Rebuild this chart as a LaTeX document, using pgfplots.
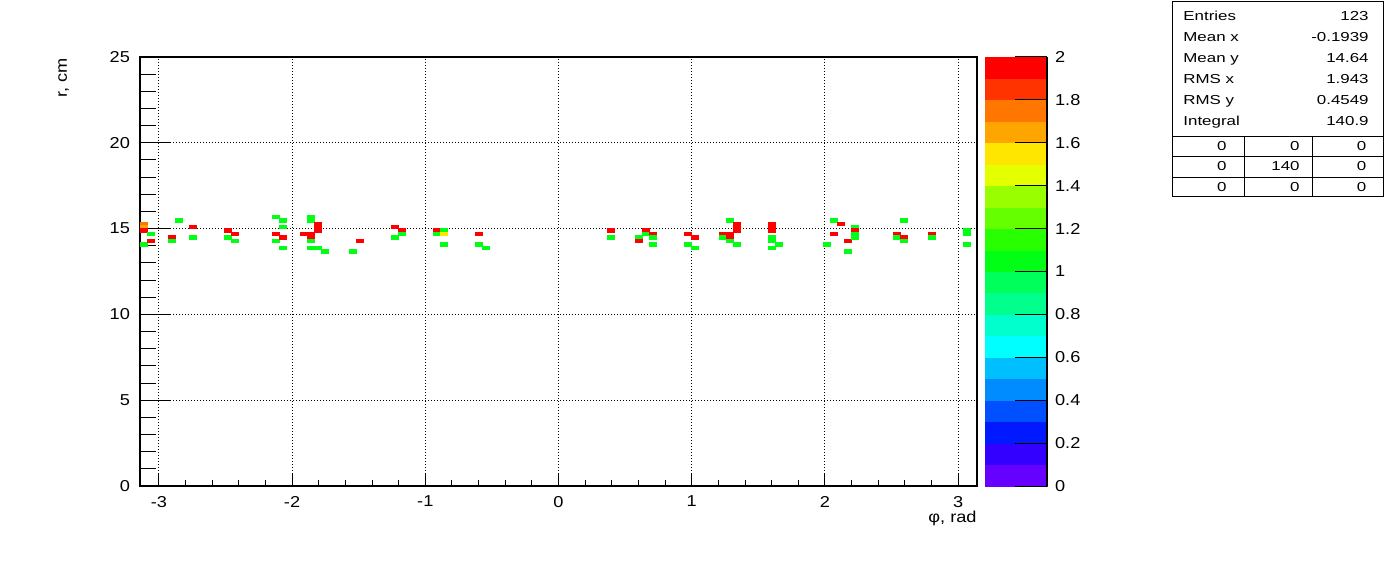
\documentclass[border=0pt]{standalone}
\usepackage{fontspec}
\setmainfont{Liberation Sans}[FakeStretch=1.15]
\newfontfamily\statfont{Liberation Sans}[FakeStretch=1.3]
\usepackage{pgfplots}
\usepackage{pgfplotstable}
\pgfplotsset{compat=1.18}
\newcommand\ft{\fontsize{7.9}{9.4}\selectfont}
\newcommand\fs{\statfont\fontsize{6.5}{7.8}\selectfont}
\pgfplotstableread{
x y v
-3.1154 15.3 1.75
-3.1154 15.1 1.65
-3.1154 14.9 1.95
-3.1154 14.1 1.05
-3.0631 14.7 1.05
-3.0631 14.3 1.95
-2.9060 14.5 1.95
-2.9060 14.3 1.05
-2.8536 15.5 1.05
-2.7489 15.1 1.95
-2.7489 14.5 1.05
-2.4871 14.9 1.95
-2.4871 14.5 1.05
-2.4347 14.7 1.95
-2.4347 14.3 1.05
-2.1206 15.7 1.05
-2.1206 14.7 1.95
-2.1206 14.3 1.05
-2.0682 15.5 1.05
-2.0682 15.1 1.05
-2.0682 14.5 1.95
-2.0682 13.9 1.05
-1.9111 14.7 1.95
-1.8588 15.7 1.05
-1.8588 15.5 1.05
-1.8588 14.7 1.95
-1.8588 14.5 1.95
-1.8588 14.3 1.05
-1.8588 13.9 1.05
-1.8064 15.3 1.95
-1.8064 15.1 1.95
-1.8064 14.9 1.95
-1.8064 13.9 1.05
-1.7541 13.7 1.05
-1.5446 13.7 1.05
-1.4923 14.3 1.95
-1.2305 15.1 1.95
-1.2305 14.5 1.05
-1.1781 14.9 1.95
-1.1781 14.7 1.05
-0.9163 14.9 1.95
-0.9163 14.7 1.05
-0.8639 14.9 1.05
-0.8639 14.7 1.55
-0.8639 14.1 1.05
-0.6021 14.7 1.95
-0.6021 14.1 1.05
-0.5498 13.9 1.05
0.3927 14.9 1.95
0.3927 14.5 1.05
0.6021 14.5 1.05
0.6021 14.3 1.95
0.6545 14.9 1.95
0.6545 14.7 1.05
0.7069 14.7 1.95
0.7069 14.5 1.05
0.7069 14.1 1.05
0.9687 14.7 1.95
0.9687 14.1 1.05
1.0210 14.5 1.95
1.0210 13.9 1.05
1.2305 14.7 1.95
1.2305 14.5 1.05
1.2828 15.5 1.05
1.2828 14.7 1.95
1.2828 14.5 1.95
1.2828 14.3 1.05
1.3352 15.3 1.95
1.3352 15.1 1.95
1.3352 14.9 1.95
1.3352 14.1 1.05
1.5970 15.3 1.95
1.5970 15.1 1.95
1.5970 14.9 1.95
1.5970 14.5 1.05
1.5970 14.3 1.05
1.5970 13.9 1.05
1.6493 14.1 1.05
2.0159 14.1 1.05
2.0682 15.5 1.05
2.0682 14.7 1.95
2.1206 15.3 1.95
2.1729 14.3 1.95
2.1729 13.7 1.05
2.2253 15.1 1.05
2.2253 14.9 1.95
2.2253 14.7 1.05
2.2253 14.5 1.05
2.5395 14.7 1.95
2.5395 14.5 1.05
2.5918 15.5 1.05
2.5918 14.5 1.95
2.5918 14.3 1.05
2.8013 14.7 1.95
2.8013 14.5 1.05
3.0631 14.9 1.05
3.0631 14.7 1.05
3.0631 14.1 1.05
}\hits
\pgfplotsset{
  rootpal/.style={
    colormap={root}{
      rgb255=(102,0,255) rgb255=(51,0,255) rgb255=(0,25,255) rgb255=(0,80,255)
      rgb255=(0,140,255) rgb255=(0,191,255) rgb255=(0,255,255) rgb255=(0,255,204)
      rgb255=(0,255,140) rgb255=(0,255,90) rgb255=(0,255,20) rgb255=(40,255,0)
      rgb255=(102,255,0) rgb255=(153,255,0) rgb255=(228,255,0) rgb255=(255,230,0)
      rgb255=(255,165,0) rgb255=(255,119,0) rgb255=(255,51,0) rgb255=(255,0,0)},
    colormap access=piecewise constant,
  },
  common/.style={
    at={(0,0)}, anchor=south west,
    scale only axis, width=418.5pt, height=214.5pt,
    xmin=-3.14159265, xmax=3.14159265, ymin=0, ymax=25,
    tick align=inside, tick pos=left,
    /pgf/number format/assume math mode=true,
    tick label style={font=\ft},
  },
}
\begin{document}
\begin{tikzpicture}
\path[use as bounding box] (-70pt,-43pt) rectangle (628pt,243pt);
\begin{axis}[common, rootpal,
  xtick={-3,-2,-1,0,1,2,3}, ytick={0,5,10,15,20,25},
  minor y tick num=4,
  major tick length=15.5pt, minor tick length=7.75pt,
  xtick style={draw=none},
  ytick style={line width=0.5pt, black},
  grid=major,
  major grid style={black, line width=0.5pt, dash pattern=on 0.5pt off 1pt},
  axis line style={line width=0.85pt},
  yticklabel style={xshift=-1.5pt},
  xticklabel style={yshift=-1.5pt},
  point meta min=0, point meta max=2,
  colorbar,
  colorbar style={
    at={(parent axis.north east)}, anchor=north west, xshift=-4.5pt,
    scale only axis, width=31pt, height=214.5pt,
    ytick={0,0.2,0.4,0.6,0.8,1,1.2,1.4,1.6,1.8,2},
    yticklabels={0,0.2,0.4,0.6,0.8,1,1.2,1.4,1.6,1.8,2},
    axis y line*=right, axis x line=none,
    tick align=inside,
    major tick length=16pt,
    ytick style={line width=0.5pt, black},
    axis line style={line width=0.6pt},
    yticklabel style={font=\ft, xshift=0.5pt},
  },
]
\addplot[scatter, only marks, mark=square*, mark size=0.858pt,
  point meta=explicit,
  mark options={xscale=2.032, line width=0.1pt},
  scatter/use mapped color={draw=mapped color, fill=mapped color}]
  table[x=x, y=y, meta=v]{\hits};
\end{axis}
\begin{axis}[common,
  xtick={-3,-2,-1,0,1,2,3}, minor x tick num=4,
  ytick=\empty, xticklabels={},
  major tick length=6pt, minor tick length=3pt,
  xtick style={line width=0.5pt, black},
  axis line style={draw=none},
]
\end{axis}
\node[rotate=90, anchor=base east, font=\ft, inner sep=0pt] at (-36.5pt,214pt) {r, cm};
\node[anchor=base east, font=\ft, inner sep=0pt] at (418.5pt,-18.3pt) {φ, rad};
% stats box
\draw[line width=0.5pt, fill=white] (516pt,144.5pt) rectangle (621.5pt,242pt);
\draw[line width=0.5pt] (516pt,174.65pt) -- (621.5pt,174.65pt)
  (516pt,164.65pt) -- (621.5pt,164.65pt)
  (516pt,154.35pt) -- (621.5pt,154.35pt)
  (552pt,174.65pt) -- (552pt,144.5pt)
  (586.35pt,174.65pt) -- (586.35pt,144.5pt);
\begin{scope}[every node/.style={font=\fs, inner sep=0pt}]
\node[anchor=base west] at (521.5pt,232.65pt) {Entries};
\node[anchor=base west] at (521.5pt,222.2pt) {Mean x};
\node[anchor=base west] at (521.5pt,211.75pt) {Mean y};
\node[anchor=base west] at (521.5pt,201.3pt) {RMS x};
\node[anchor=base west] at (521.5pt,190.85pt) {RMS y};
\node[anchor=base west] at (521.5pt,180.4pt) {Integral};
\node[anchor=base east] at (614.5pt,232.65pt) {123};
\node[anchor=base east] at (614.5pt,222.2pt) {-0.1939};
\node[anchor=base east] at (614.5pt,211.75pt) {14.64};
\node[anchor=base east] at (614.5pt,201.3pt) {1.943};
\node[anchor=base east] at (614.5pt,190.85pt) {0.4549};
\node[anchor=base east] at (614.5pt,180.4pt) {140.9};
\node[anchor=base east] at (543.5pt,167.65pt) {0};
\node[anchor=base east] at (580pt,167.65pt) {0};
\node[anchor=base east] at (613.3pt,167.65pt) {0};
\node[anchor=base east] at (543.5pt,157.5pt) {0};
\node[anchor=base east] at (580pt,157.5pt) {140};
\node[anchor=base east] at (613.3pt,157.5pt) {0};
\node[anchor=base east] at (543.5pt,147.15pt) {0};
\node[anchor=base east] at (580pt,147.15pt) {0};
\node[anchor=base east] at (613.3pt,147.15pt) {0};
\end{scope}
\end{tikzpicture}
\end{document}
